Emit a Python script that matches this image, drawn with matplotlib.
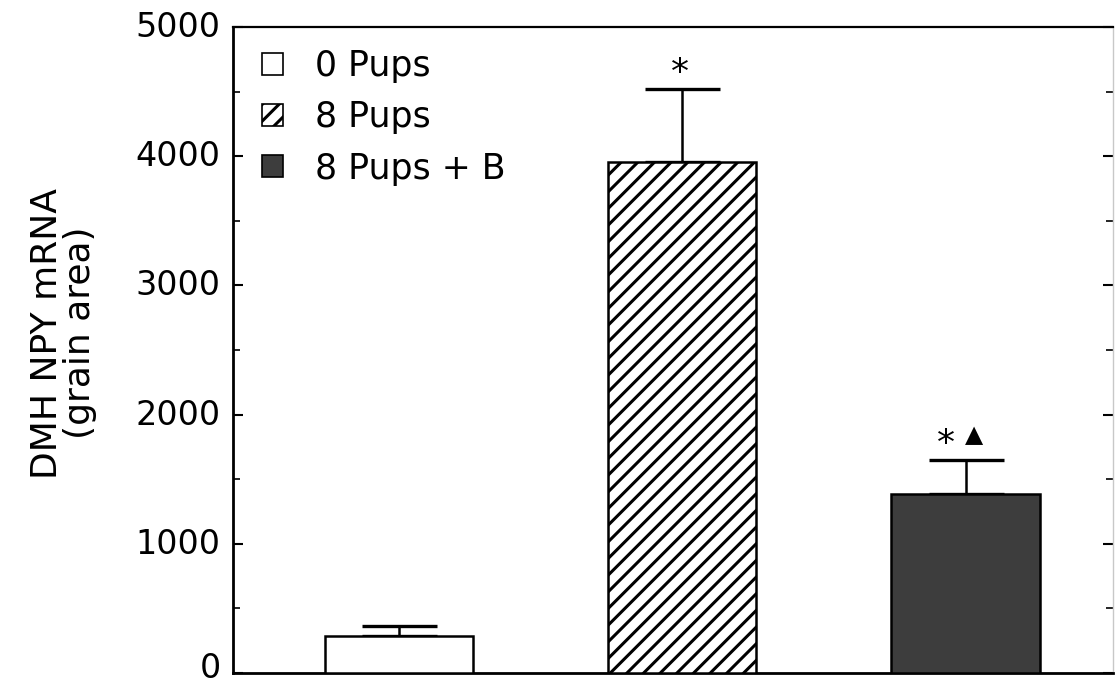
import matplotlib
matplotlib.use('Agg')
import matplotlib.pyplot as plt
import matplotlib.transforms as mtransforms
import numpy as np

plt.rcParams['font.family'] = ['DejaVu Sans']
plt.rcParams['hatch.linewidth'] = 2.2

# Group means and upper SEM (grain area)
groups = ['0 Pups', '8 Pups', '8 Pups + B']
means = [286, 3955, 1385]
sem = [78, 565, 264]
star = [False, True, True]       # * vs 0 pups
triangle = [False, False, True]  # triangle vs 8 pups
fills = ['white', 'white', '#3d3d3d']
hatches = ['', '//', '']

yticks = [0, 1000, 2000, 3000, 4000, 5000]

fig = plt.figure(figsize=(11.15, 6.83), dpi=100)
ax = fig.add_axes([0.209, 0.0146, 0.789, 0.9459])

x = np.arange(len(groups))
bars = ax.bar(x, means, width=0.523, color=fills, edgecolor='black',
              linewidth=1.8, zorder=3)
for b, h in zip(bars, hatches):
    b.set_hatch(h)

ax.errorbar(x, means, yerr=[np.zeros(len(sem)), sem], fmt='none',
            ecolor='black', elinewidth=1.8, capsize=27, capthick=2.4, zorder=2)

for xi, m, s, st, tr in zip(x, means, sem, star, triangle):
    if st:
        dx = -14 if tr else -2
        ax.annotate('*', (xi, m + s), xytext=(dx, 4), textcoords='offset points',
                    ha='center', va='baseline', fontsize=26)
    if tr:
        ax.annotate('▲', (xi, m + s), xytext=(6, 18), textcoords='offset points',
                    ha='center', va='center', fontsize=17)

ax.set_xlim(-0.587, 2.52)
ax.set_ylim(0, 5000)
ax.set_xticks([])
ax.set_yticks(yticks)
ax.set_yticks(np.arange(500, 5000, 1000), minor=True)
ax.yaxis.set_ticks_position('both')
ax.tick_params(axis='y', which='major', direction='in', length=7, width=1.5,
               labelsize=24, pad=9)
ax.tick_params(axis='y', which='minor', direction='in', length=5, width=1.2)

ax.spines['left'].set_linewidth(2)
ax.spines['bottom'].set_linewidth(2)
ax.spines['top'].set_linewidth(1.6)
ax.spines['right'].set_color('#c8c8c8')
ax.spines['right'].set_linewidth(1)

ax.set_ylabel('DMH NPY mRNA\n(grain area)', fontsize=26, linespacing=0.95)
ax.yaxis.set_label_coords(-0.155, 0.526)

leg = ax.legend(bars, groups, loc='upper left', frameon=False, fontsize=25,
                handlelength=0.6, handleheight=0.6, handletextpad=0.92,
                labelspacing=0.5, borderpad=0, borderaxespad=0,
                bbox_to_anchor=(0.033, 0.966))
for p in leg.get_patches():
    p.set_linewidth(1.2)

# ticks exist after a draw; grey the right-hand ones and lift the labels a bit
fig.canvas.draw()
for t in ax.yaxis.get_major_ticks() + ax.yaxis.get_minor_ticks():
    t.tick2line.set_color('#b0b0b0')
for t in ax.yaxis.get_major_ticks():
    lift = 8 if t.get_loc() == 0 else 3
    shift = mtransforms.ScaledTranslation(0, lift / 100, fig.dpi_scale_trans)
    t.label1.set_transform(t.label1.get_transform() + shift)

fig.savefig('out.png', dpi=100)
